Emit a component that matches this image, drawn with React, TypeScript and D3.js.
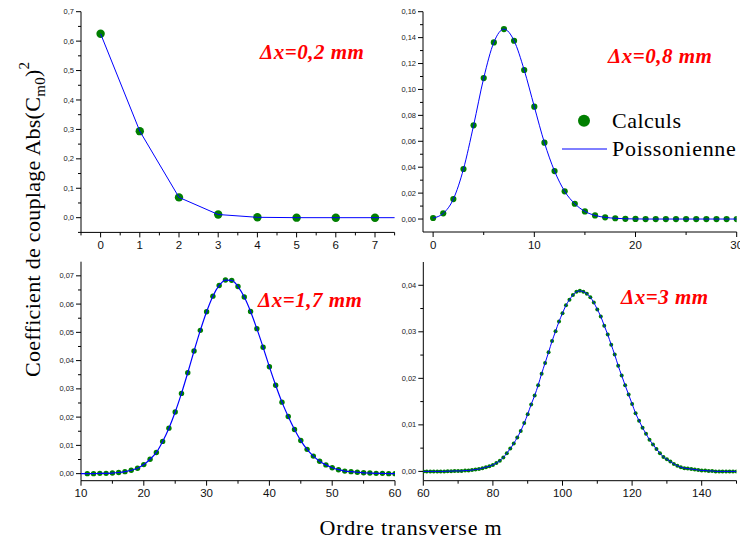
import React from "react";
import * as d3 from "d3";

// ---------- data ----------
const p1M = [0, 1, 2, 3, 4, 5, 6, 7];
const p1Calc = [0.625, 0.294, 0.069, 0.0108, 0.0013, 0.0001, 0.0, 0.0];
const p1LineM = [0, 1, 2, 3, 4, 5, 6, 7, 8];
const p1Line = [0.625, 0.294, 0.069, 0.0108, 0.0013, 0.0001, 0.0, 0.0, 0.0];

const p2M = d3.range(0, 31);
const p2Calc = [
  0.0008, 0.0044, 0.0154, 0.0386, 0.0723, 0.1088, 0.1363, 0.1466, 0.1376, 0.115,
  0.0867, 0.0589, 0.037, 0.0214, 0.0118, 0.0059, 0.0028, 0.0013, 0.0006, 0.0002,
  0.0001, 0, 0, 0, 0, 0, 0, 0, 0, 0, 0,
];

const p3M = d3.range(10, 61);
const p3Calc = [
  0.0, 0.0, 0.0, 0.0001, 0.0001, 0.0002, 0.0004, 0.0007, 0.0012, 0.0019,
  0.0032, 0.0051, 0.0075, 0.0114, 0.0161, 0.0218, 0.0284, 0.0357, 0.0434, 0.0507,
  0.0573, 0.0628, 0.0666, 0.0685, 0.0684, 0.0662, 0.0625, 0.0574, 0.0513, 0.0447,
  0.0378, 0.0313, 0.0253, 0.0202, 0.0156, 0.0117, 0.0086, 0.0062, 0.0044, 0.0031,
  0.0021, 0.0014, 0.0009, 0.0007, 0.0005, 0.0003, 0.0002, 0.0001, 0.0001, 0.0, 0.0,
];

const p4M = d3.range(60, 151);
const p4Calc = [
  0, 0, 0, 0, 0, 0, 0, 0.00005, 0.00005, 0.0001,
  0.0001, 0.0001, 0.0002, 0.0002, 0.0003, 0.0004, 0.0005, 0.0007, 0.0009, 0.0011,
  0.0014, 0.0018, 0.0023, 0.003, 0.0039, 0.0049, 0.006, 0.0073, 0.0087, 0.0104,
  0.0123, 0.0144, 0.0163, 0.0185, 0.021, 0.0233, 0.0256, 0.028, 0.0301, 0.0322,
  0.034, 0.0357, 0.0369, 0.0379, 0.0386, 0.0388, 0.0386, 0.0382, 0.0374, 0.0363,
  0.0348, 0.0333, 0.0313, 0.0294, 0.0272, 0.0251, 0.0227, 0.0206, 0.0185, 0.0165,
  0.0145, 0.0125, 0.0109, 0.0094, 0.0081, 0.0068, 0.0058, 0.0048, 0.0039, 0.0031,
  0.0026, 0.0021, 0.0016, 0.0012, 0.0009, 0.0007, 0.0006, 0.0005, 0.0004, 0.0003,
  0.0002, 0.0002, 0.0001, 0.0001, 0, 0, 0, 0, 0, 0, 0,
];

const p1YTicks = [0, 0.1, 0.2, 0.3, 0.4, 0.5, 0.6, 0.7];
const p1XTicks = [0, 1, 2, 3, 4, 5, 6, 7];
const p2YTicks = [0, 0.02, 0.04, 0.06, 0.08, 0.1, 0.12, 0.14, 0.16];
const p2XTicks = [0, 10, 20, 30];
const p3YTicks = [0, 0.01, 0.02, 0.03, 0.04, 0.05, 0.06, 0.07];
const p3XTicks = [10, 20, 30, 40, 50, 60];
const p4YTicks = [0, 0.01, 0.02, 0.03, 0.04];
const p4XTicks = [60, 80, 100, 120, 140];

const labels = ["Δx=0,2 mm", "Δx=0,8 mm", "Δx=1,7 mm", "Δx=3 mm"];
const legendLabels = ["Calculs", "Poissonienne"];
const xTitle = "Ordre transverse m";

// ---------- style ----------
const GREEN = "#007f00";
const BLUE = "#0000ff";
const RED = "#ff0000";
const SANS = "'Liberation Sans', Arial, sans-serif";
const SERIF = "'Liberation Serif', 'Times New Roman', serif";

const locale = d3.formatLocale({ decimal: ",", thousands: " ", grouping: [3], currency: ["", ""] });

type PanelProps = {
  xDomain: [number, number];
  yDomain: [number, number];
  xRange: [number, number];
  yRange: [number, number];
  xTicks: number[];
  xMinor: number[];
  yTicks: number[];
  yMinor: number[];
  yFmt: string;
  m: number[];
  v: number[];
  lm?: number[];
  lv?: number[];
  curve: d3.CurveFactory;
  r: number;
  lineW: number;
  label: string;
  lx: number;
  ly: number;
  id: string;
};

function Panel(p: PanelProps) {
  const x = d3.scaleLinear().domain(p.xDomain).range(p.xRange);
  const y = d3.scaleLinear().domain(p.yDomain).range(p.yRange);
  const fmt = locale.format(p.yFmt);
  const lm = p.lm ?? p.m;
  const lv = p.lv ?? p.v;
  const line = d3
    .line<number>()
    .x((_, i) => x(lm[i]))
    .y((d) => y(d))
    .curve(p.curve);
  const x0 = p.xRange[0];
  const x1 = p.xRange[1];
  const yb = p.yRange[0];
  const yt = p.yRange[1];
  return (
    <g>
      <defs>
        <clipPath id={p.id}>
          <rect x={x0} y={yt - 10} width={x1 - x0} height={yb - yt + 10} />
        </clipPath>
      </defs>
      {/* y axis */}
      <line x1={x0} x2={x0} y1={yt} y2={yb} stroke="#000" strokeWidth={1} />
      {p.yTicks.map((t) => (
        <g key={"yt" + t}>
          <line x1={x0 - 5} x2={x0} y1={y(t)} y2={y(t)} stroke="#000" />
          <text x={x0 - 7} y={y(t) + 2.6} fontSize={7.5} fontFamily={SANS} textAnchor="end" fill="#222">
            {fmt(t)}
          </text>
        </g>
      ))}
      {p.yMinor.map((t) => (
        <line key={"ym" + t} x1={x0 - 3} x2={x0} y1={y(t)} y2={y(t)} stroke="#000" />
      ))}
      {/* x axis */}
      <line x1={x0} x2={x1} y1={yb} y2={yb} stroke="#000" strokeWidth={1} />
      {p.xTicks.map((t) => (
        <g key={"xt" + t}>
          <line x1={x(t)} x2={x(t)} y1={yb} y2={yb + 5} stroke="#000" />
          <text x={x(t)} y={yb + 16.5} fontSize={11.5} fontFamily={SANS} textAnchor="middle" fill="#111">
            {t}
          </text>
        </g>
      ))}
      {p.xMinor.map((t) => (
        <line key={"xm" + t} x1={x(t)} x2={x(t)} y1={yb} y2={yb + 3} stroke="#000" />
      ))}
      {/* data */}
      <g clipPath={`url(#${p.id})`}>
        {p.v.map((d, i) => (
          <circle key={"c" + i} cx={x(p.m[i])} cy={y(d)} r={p.r} fill={GREEN} />
        ))}
        <path d={line(lv) ?? ""} fill="none" stroke={BLUE} strokeWidth={p.lineW} />
      </g>
      <text
        x={p.lx}
        y={p.ly}
        fill={RED}
        fontFamily={SERIF}
        fontStyle="italic"
        fontWeight="bold"
        fontSize={21}
        letterSpacing={0.5}
      >
        {p.label}
      </text>
    </g>
  );
}

export default function App() {
  return (
    <svg
      width={740}
      height={545}
      viewBox="0 0 740 545"
      style={{ position: "absolute", left: 0, top: 0, background: "#fff" }}
    >
      <rect x={0} y={0} width={740} height={545} fill="#fff" />
      <Panel
        id="c1"
        xDomain={[-0.5, 7.5]}
        yDomain={[-0.05, 0.7]}
        xRange={[81, 394.6]}
        yRange={[232.4, 11.7]}
        xTicks={p1XTicks}
        xMinor={d3.range(-0.5, 7.6, 1)}
        yTicks={p1YTicks}
        yMinor={d3.range(0.05, 0.7, 0.1).concat([-0.05])}
        yFmt=".1f"
        m={p1M}
        v={p1Calc}
        lm={p1LineM}
        lv={p1Line}
        curve={d3.curveLinear}
        r={4.2}
        lineW={1}
        label={labels[0]}
        lx={260}
        ly={59}
      />
      <Panel
        id="c2"
        xDomain={[-1, 30]}
        yDomain={[-0.01, 0.16]}
        xRange={[423, 736.7]}
        yRange={[232, 11.7]}
        xTicks={p2XTicks}
        xMinor={[5, 15, 25]}
        yTicks={p2YTicks}
        yMinor={d3.range(0.01, 0.16, 0.02)}
        yFmt=".2f"
        m={p2M}
        v={p2Calc}
        curve={d3.curveMonotoneX}
        r={3.1}
        lineW={1}
        label={labels[1]}
        lx={608}
        ly={63}
      />
      <Panel
        id="c3"
        xDomain={[10, 60]}
        yDomain={[-0.0025, 0.075]}
        xRange={[81, 395]}
        yRange={[480.7, 261.7]}
        xTicks={p3XTicks}
        xMinor={[15, 25, 35, 45, 55]}
        yTicks={p3YTicks}
        yMinor={d3.range(0.005, 0.075, 0.01)}
        yFmt=".2f"
        m={p3M.slice(1)}
        v={p3Calc.slice(1)}
        lm={p3M}
        lv={p3Calc}
        curve={d3.curveMonotoneX}
        r={2.7}
        lineW={1.2}
        label={labels[2]}
        lx={258}
        ly={307}
      />
      <Panel
        id="c4"
        xDomain={[60, 150]}
        yDomain={[-0.002, 0.045]}
        xRange={[423.3, 736.5]}
        yRange={[480.7, 262]}
        xTicks={p4XTicks}
        xMinor={[70, 90, 110, 130, 150]}
        yTicks={p4YTicks}
        yMinor={d3.range(0.005, 0.045, 0.01)}
        yFmt=".2f"
        m={p4M}
        v={p4Calc}
        curve={d3.curveMonotoneX}
        r={2}
        lineW={1}
        label={labels[3]}
        lx={621}
        ly={304}
      />
      {/* legend */}
      <circle cx={584} cy={120.7} r={6} fill={GREEN} />
      <text x={612} y={128} fontFamily={SERIF} fontSize={22} letterSpacing={0.5} fill="#000">
        {legendLabels[0]}
      </text>
      <line x1={562} x2={607} y1={149} y2={149} stroke={BLUE} strokeWidth={1} />
      <text x={612} y={156} fontFamily={SERIF} fontSize={22} letterSpacing={0.7} fill="#000">
        {legendLabels[1]}
      </text>
      {/* axis titles */}
      <text x={411} y={535} textAnchor="middle" fontFamily={SERIF} fontSize={22} letterSpacing={0.8} fill="#000">
        {xTitle}
      </text>
      <text
        transform="translate(40,377) rotate(-90)"
        fontFamily={SERIF}
        fontSize={22}
        letterSpacing={0.3}
        fill="#000"
      >
        Coefficient de couplage Abs(C
        <tspan fontSize={15} dy={5}>m0</tspan>
        <tspan dy={-5}>)</tspan>
        <tspan fontSize={15} dy={-11}>2</tspan>
      </text>
    </svg>
  );
}
